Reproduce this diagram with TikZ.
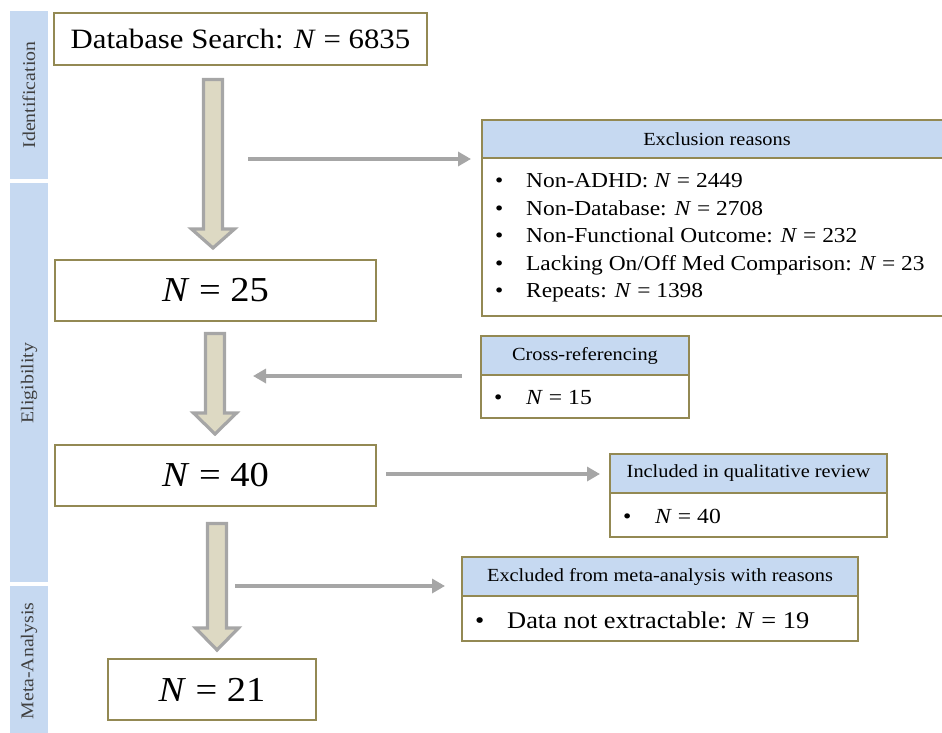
\documentclass[tikz,border=0pt]{standalone}
\usepackage{fontspec}
\setmainfont{Liberation Serif}[FakeStretch=1.1]
\usetikzlibrary{arrows.meta,calc}
\definecolor{olive}{HTML}{938953}
\definecolor{hdr}{HTML}{C6D9F1}
\definecolor{arrfill}{HTML}{DDD9C3}
\definecolor{arrgray}{HTML}{A6A6A6}
\definecolor{lbl}{HTML}{404040}
\newcommand\blockarrow[4]{% x, ytop, yhead, ytip
  \draw[blockarr] (#1-9.5,#2) -- (#1+9.5,#2) -- (#1+9.5,#3) -- (#1+21.5,#3)
    -- (#1,#4) -- (#1-21.5,#3) -- (#1-9.5,#3) -- cycle;}
\begin{document}
\begin{tikzpicture}[x=1pt,y=-1pt,
  box/.style={draw=olive, line width=1.5pt, fill=white, inner sep=0pt, outer sep=0pt},
  hdrbox/.style={draw=olive, line width=1.5pt, fill=hdr, inner sep=0pt, outer sep=0pt,
    font=\fontsize{18.5}{21}\selectfont},
  sidebar/.style={fill=hdr, inner sep=0pt, outer sep=0pt},
  sidelbl/.style={rotate=90, text=lbl, font=\fontsize{18}{21}\selectfont},
  blockarr/.style={draw=arrgray, fill=arrfill, line width=3.2pt, line join=miter},
  flowarr/.style={draw=arrgray, line width=4pt, -{Triangle[length=13pt,width=14pt]}},
  bigtxt/.style={font=\fontsize{35}{40}\selectfont},
  listtxt/.style={anchor=west, inner sep=0pt, align=left}
]
\useasboundingbox (0,0) rectangle (942,733);

% side bars
\node[sidebar, minimum width=38pt, minimum height=168pt] (sbid) at (29,95) {};
\node[sidebar, minimum width=38pt, minimum height=399pt] (sbel) at (29,382.5) {};
\node[sidebar, minimum width=38pt, minimum height=147pt] (sbma) at (29,659.5) {};
\node[sidelbl] (lid) at (29,95) {Identification};
\node[sidelbl] (lel) at (29,383) {Eligibility};
\node[sidelbl] (lma) at (29,661) {Meta-Analysis};

% main boxes
\node[box, minimum width=373pt, minimum height=52pt, font=\fontsize{28}{32}\selectfont] (db) at (240.5,39) {Database Search: \textit{N} = 6835};
\node[box, minimum width=321pt, minimum height=61pt, bigtxt] (n25) at (215.5,290.5) {\textit{N} = 25};
\node[box, minimum width=321pt, minimum height=61pt, bigtxt] (n40) at (215.5,475.5) {\textit{N} = 40};
\node[box, minimum width=208pt, minimum height=61pt, bigtxt] (n21) at (212,689.5) {\textit{N} = 21};

% block arrows
\blockarrow{213}{79.5}{229}{248}
\blockarrow{215}{333.5}{413}{434}
\blockarrow{217}{523.5}{628}{650}

% exclusion reasons
\node[box, minimum width=466pt, minimum height=158pt] (exbody) at (715,237) {};
\node[hdrbox, minimum width=466pt, minimum height=38pt] (exhdr) at (715,139) {};
\node[font=\fontsize{18.5}{21}\selectfont] (exhdrt) at (717,139) {Exclusion reasons};
\node[listtxt, font=\fontsize{21.3}{27.5}\selectfont] (exlist) at (495,238) {%
  \makebox[31pt][l]{•}Non-ADHD: \textit{N} = 2449\\
  \makebox[31pt][l]{•}Non-Database: \textit{N} = 2708\\
  \makebox[31pt][l]{•}Non-Functional Outcome: \textit{N} = 232\\
  \makebox[31pt][l]{•}Lacking On/Off Med Comparison: \textit{N} = 23\\
  \makebox[31pt][l]{•}Repeats: \textit{N} = 1398};

% cross-referencing
\node[box, minimum width=208pt, minimum height=43pt] (crbody) at (585,396.5) {};
\node[hdrbox, minimum width=208pt, minimum height=39pt] (crhdr) at (585,355.5) {Cross-referencing};
\node[listtxt, font=\fontsize{21.5}{26}\selectfont] (crlist) at (494,398) {\makebox[32pt][l]{•}\textit{N} = 15};

% included
\node[box, minimum width=277pt, minimum height=44pt] (inbody) at (748.5,515) {};
\node[hdrbox, minimum width=277pt, minimum height=39pt] (inhdr) at (748.5,473.5) {Included in qualitative review};
\node[listtxt, font=\fontsize{21.5}{26}\selectfont] (inlist) at (623,516) {\makebox[32pt][l]{•}\textit{N} = 40};

% excluded from meta-analysis
\node[box, minimum width=396pt, minimum height=45pt] (mebody) at (660,618.5) {};
\node[hdrbox, minimum width=396pt, minimum height=39pt] (mehdr) at (660,576.5) {Excluded from meta-analysis with reasons};
\node[listtxt, font=\fontsize{24}{28}\selectfont] (melist) at (475,620) {\makebox[32pt][l]{•}Data not extractable: \textit{N} = 19};

% flow arrows
\coordinate (f1s) at (248,159);
\coordinate (f1e) at ($(exbody.north west)+(-11,1)$);
\draw[flowarr] (f1s) -- (f1e);
\coordinate (f2s) at ($(crbody.north west)+(-19,1)$);
\coordinate (f2e) at (253,376);
\draw[flowarr] (f2s) -- (f2e);
\coordinate (f3s) at ($(n40.east)+(10,-1.5)$);
\coordinate (f3e) at ($(inhdr.west)+(-10,0.5)$);
\draw[flowarr] (f3s) -- (f3e);
\coordinate (f4s) at (235,586);
\coordinate (f4e) at ($(mehdr.west)+(-17,9.5)$);
\draw[flowarr] (f4s) -- (f4e);
\end{tikzpicture}
\end{document}
